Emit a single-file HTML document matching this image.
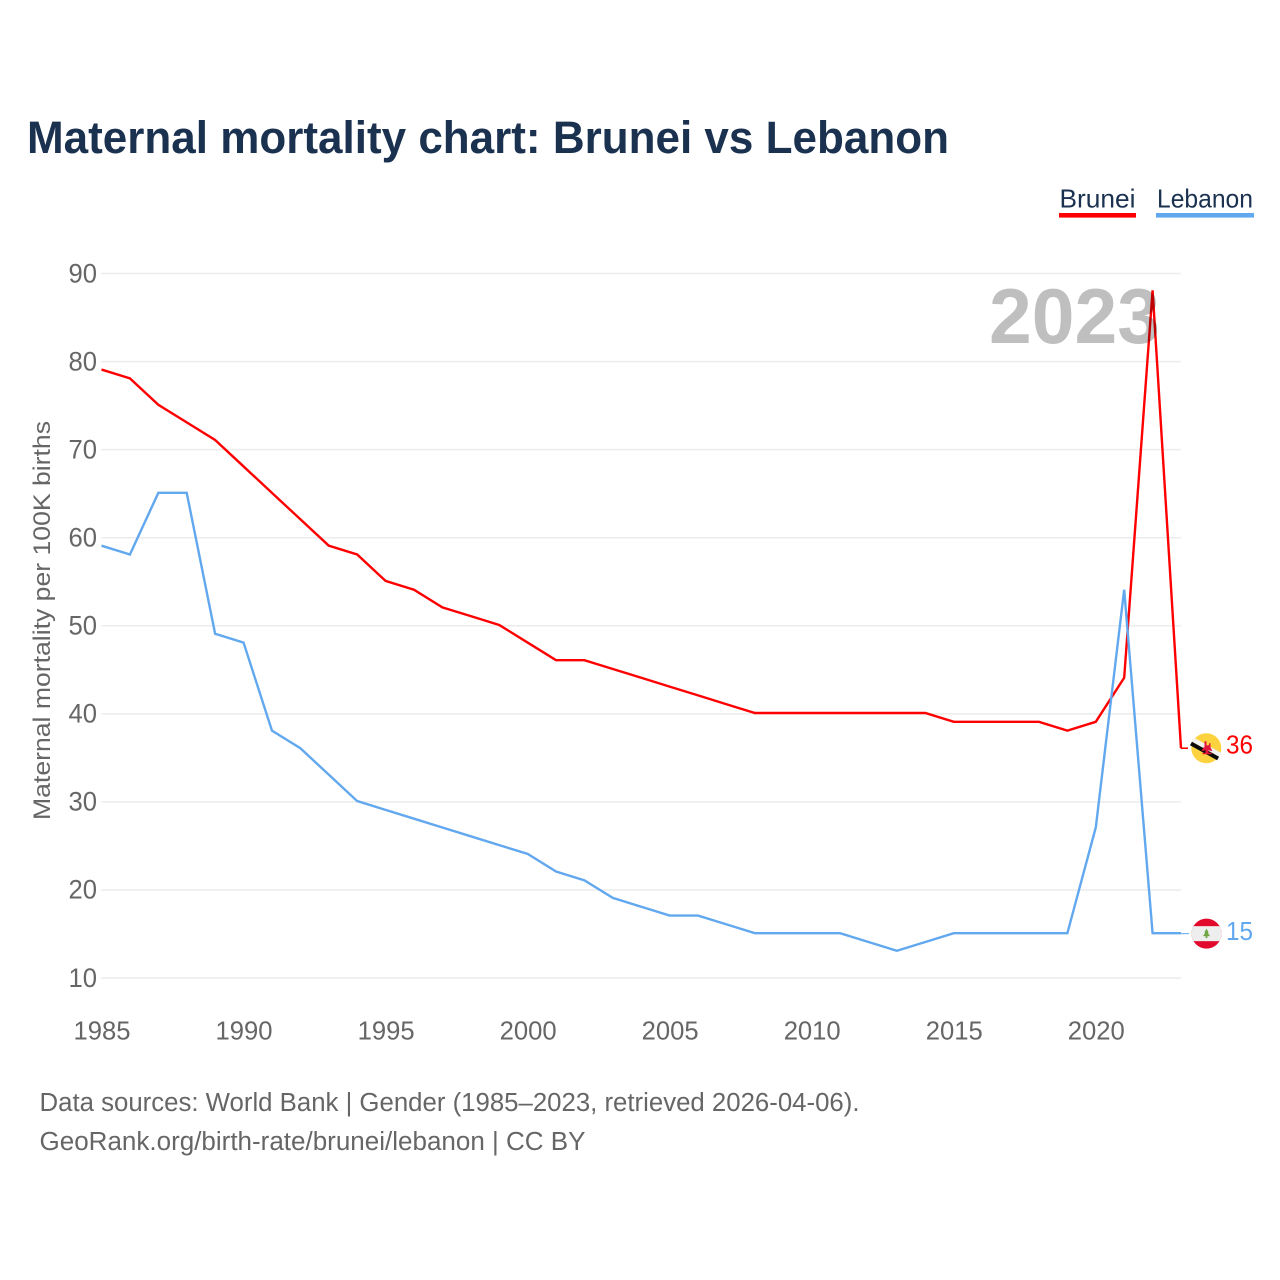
<!DOCTYPE html>
<html lang="en">
<head>
<meta charset="utf-8">
<title>Maternal mortality chart: Brunei vs Lebanon</title>
<style>
html,body{margin:0;padding:0;background:#fff;width:1280px;height:1280px;overflow:hidden}
svg{display:block;font-family:"Liberation Sans",sans-serif}
</style>
</head>
<body>
<svg id="chart" width="1280" height="1280" viewBox="0 0 1280 1280" xmlns="http://www.w3.org/2000/svg">
  <defs>
    <clipPath id="clip-bn"><circle id="clip-bn-c" cx="1206.3" cy="748" r="15"/></clipPath>
    <clipPath id="clip-lb"><circle id="clip-lb-c" cx="1206.5" cy="933.5" r="15"/></clipPath>
  </defs>
  <text x="27" y="153" font-size="45" font-weight="700" fill="#1a3150" textLength="922" lengthAdjust="spacingAndGlyphs">Maternal mortality chart: Brunei vs Lebanon</text>

  <g>
    <g>
      <text x="1059.5" y="207.5" font-size="26" fill="#1a3150" textLength="76" lengthAdjust="spacingAndGlyphs">Brunei</text>
      <rect x="1059" y="213" width="77" height="4.6" fill="#ff0000"/>
    </g>
    <g>
      <text x="1157" y="207.5" font-size="26" fill="#1a3150" textLength="96" lengthAdjust="spacingAndGlyphs">Lebanon</text>
      <rect x="1156" y="213" width="98" height="4.6" fill="#62a8ee"/>
    </g>
  </g>

  <g id="grid"></g>
  <g id="y-ticks"></g>
  <g id="x-ticks"></g>
  <text transform="translate(50,620.5) rotate(-90)" text-anchor="middle" font-size="24" fill="#666666" textLength="399" lengthAdjust="spacingAndGlyphs">Maternal mortality per 100K births</text>

  <g id="series" transform="translate(0,-0.8)"></g>

  <text x="989" y="343" font-size="78" font-weight="700" fill="#000000" fill-opacity="0.25" textLength="171" lengthAdjust="spacingAndGlyphs">2023</text>

  <g id="end-markers"></g>

  <g>
    <text x="39.5" y="1111" font-size="25.5" fill="#666666" textLength="820" lengthAdjust="spacingAndGlyphs">Data sources: World Bank | Gender (1985–2023, retrieved 2026-04-06).</text>
    <text x="39.5" y="1150" font-size="25.5" fill="#666666" textLength="546" lengthAdjust="spacingAndGlyphs">GeoRank.org/birth-rate/brunei/lebanon | CC BY</text>
  </g>
</svg>
<script>
const years = [1985,1986,1987,1988,1989,1990,1991,1992,1993,1994,1995,1996,1997,1998,1999,2000,2001,2002,2003,2004,2005,2006,2007,2008,2009,2010,2011,2012,2013,2014,2015,2016,2017,2018,2019,2020,2021,2022,2023];
const bruneiValues = [79,78,75,73,71,68,65,62,59,58,55,54,52,51,50,48,46,46,45,44,43,42,41,40,40,40,40,40,40,40,39,39,39,39,38,39,44,88,36];
const lebanonValues = [59,58,65,65,49,48,38,36,33,30,29,28,27,26,25,24,22,21,19,18,17,17,16,15,15,15,15,14,13,14,15,15,15,15,15,27,54,15,15];
const yTickValues = [10,20,30,40,50,60,70,80,90];
const xTickValues = [1985,1990,1995,2000,2005,2010,2015,2020];

const NS = 'http://www.w3.org/2000/svg';
const xScale = function (year) { return 101.5 + (year - 1985) * (1181 - 101.5) / (2023 - 1985); };
const yScale = function (value) { return 978 - (value - 10) * (978 - 273.5) / (90 - 10); };

function make(tag, attrs, parent) {
  const el = document.createElementNS(NS, tag);
  Object.keys(attrs).forEach(function (k) { el.setAttribute(k, attrs[k]); });
  parent.appendChild(el);
  return el;
}

const gridGroup = document.getElementById('grid');
const yTickGroup = document.getElementById('y-ticks');
yTickValues.forEach(function (v) {
  const y = yScale(v);
  const line = make('line', {x1: 101, x2: 1181, y1: y, y2: y, stroke: '#ececec', 'stroke-width': 1.5}, gridGroup);
  
  
  const label = make('text', {x: 97, y: y + 8.8, 'text-anchor': 'end', 'font-size': 26.5, fill: '#666666', textLength: 28.5, lengthAdjust: 'spacingAndGlyphs'}, yTickGroup);
  
  
  label.textContent = String(v);
});

const xTickGroup = document.getElementById('x-ticks');
xTickValues.forEach(function (yr) {
  const label = make('text', {x: xScale(yr) + 0.5, y: 1039.7, 'text-anchor': 'middle', 'font-size': 26, fill: '#666666', textLength: 57, lengthAdjust: 'spacingAndGlyphs'}, xTickGroup);
  
  
  label.textContent = String(yr);
});

function pathFor(values) {
  return values.map(function (v, i) {
    return (i ? 'L' : 'M') + xScale(years[i]).toFixed(2) + ' ' + yScale(v).toFixed(2);
  }).join(' ');
}

const seriesGroup = document.getElementById('series');
const bruneiLine = make('path', {d: pathFor(bruneiValues), fill: 'none', stroke: '#ff0000', 'stroke-width': 2.4, 'stroke-linejoin': 'miter'}, seriesGroup);


const lebanonLine = make('path', {d: pathFor(lebanonValues), fill: 'none', stroke: '#62a8ee', 'stroke-width': 2.4, 'stroke-linejoin': 'miter'}, seriesGroup);



const markers = document.getElementById('end-markers');
const lastBrunei = bruneiValues[bruneiValues.length - 1];
const lastLebanon = lebanonValues[lebanonValues.length - 1];
const lastX = xScale(years[years.length - 1]);
const by = yScale(lastBrunei) - 0.8;
const ly = yScale(lastLebanon) - 0.3;

document.getElementById('clip-bn-c').setAttribute('cy', by);
document.getElementById('clip-lb-c').setAttribute('cy', ly);

const bruneiLeader = make('line', {x1: lastX, x2: 1188, y1: by, y2: by, stroke: '#ff0000', 'stroke-width': 1.6}, markers);


const lebanonLeader = make('line', {x1: lastX, x2: 1189, y1: ly, y2: ly, stroke: '#62a8ee', 'stroke-width': 1}, markers);



/* Brunei flag */
const bnFlag = make('g', {'clip-path': 'url(#clip-bn)'}, markers);


make('rect', {x: 1190, y: by - 16, width: 32, height: 32, fill: '#fcd33f'}, bnFlag);
const bnStripes = make('g', {transform: 'translate(1205.5,' + (by + 1) + ') rotate(29)'}, markers);
make('rect', {x: -15.5, y: -4.5, width: 31, height: 4.5, fill: '#f2f2f2'}, bnStripes);
make('rect', {x: -15.5, y: 0, width: 31, height: 4, fill: '#0a0a0a'}, bnStripes);
const bnEmblem = make('path', {d: 'M1204.5 ' + (by - 7) + ' h2 v4 h2.5 v-2 h1.5 v4 l2 4 l-4 -1 v2.5 h3 v1.5 h-9 v-1.5 h3 v-2.5 l-4 1 l2 -4 h1 z', fill: '#e1163a'}, markers);



/* Lebanon flag */
const lbFlag = make('g', {'clip-path': 'url(#clip-lb)'}, markers);


make('rect', {x: 1190, y: ly - 16, width: 33, height: 32, fill: '#e1092c'}, lbFlag);
make('rect', {x: 1190, y: ly - 7.5, width: 33, height: 15, fill: '#eeeeee'}, lbFlag);
make('path', {d: 'M1206.5 ' + (ly - 5) + ' l2.2 4 h-1 l2.3 3.5 h-2.6 v2 h-1.8 v-2 h-2.6 l2.3 -3.5 h-1 z', fill: '#6da544'}, lbFlag);

const bruneiValueLabel = make('text', {x: 1226, y: by + 5.3, 'font-size': 26, fill: '#ff0000', textLength: 27, lengthAdjust: 'spacingAndGlyphs'}, markers);


bruneiValueLabel.textContent = String(lastBrunei);

const lebanonValueLabel = make('text', {x: 1226, y: ly + 6.3, 'font-size': 26, fill: '#62a8ee', textLength: 27, lengthAdjust: 'spacingAndGlyphs'}, markers);


lebanonValueLabel.textContent = String(lastLebanon);
</script>
</body>
</html>
